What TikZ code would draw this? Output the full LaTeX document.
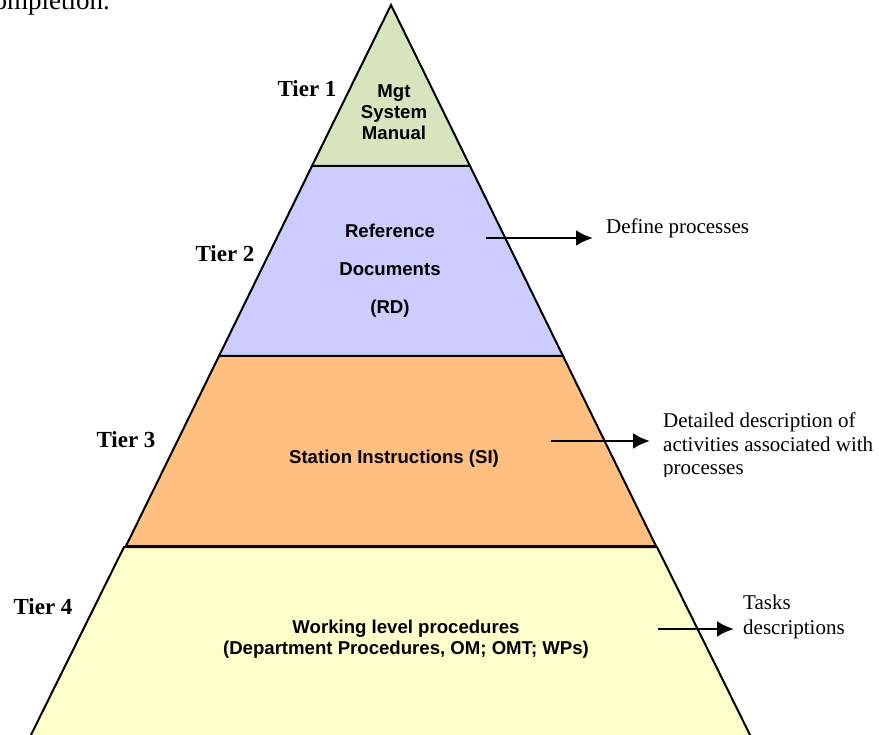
\documentclass[tikz,border=0pt]{standalone}
\usepackage{fontspec}
\setmainfont{Liberation Serif}
\setsansfont{Liberation Sans}
\usepackage{tikz}
\usetikzlibrary{arrows.meta}

\definecolor{tierone}{HTML}{D7E4BD}
\definecolor{tiertwo}{HTML}{CCCCFF}
\definecolor{tierthree}{HTML}{FFBF80}
\definecolor{tierfour}{HTML}{FFFFCC}

\begin{document}
\begin{tikzpicture}[x=1pt, y=-1pt]
\tikzset{layer/.style = {draw=black, line width=2pt}}
\tikzset{box/.style = {font=\sffamily\bfseries\fontsize{18.6}{21}\selectfont, align=center, inner sep=0pt}}
\tikzset{tier/.style = {font=\bfseries\fontsize{23}{26}\selectfont, inner sep=0pt}}
\tikzset{note/.style = {font=\fontsize{21}{23.5}\selectfont, align=left, anchor=west, inner sep=0pt}}
\tikzset{edge/.style = {-{Latex[length=17pt,width=16pt]}, line width=2.8pt}}

\useasboundingbox (0,0) rectangle (879,735);
\clip (0,0) rectangle (879,735);

% text above
\node[font=\fontsize{27}{30}\selectfont, anchor=base east, inner sep=0pt] (prev) at (110,10) {completion.};

% layers
\filldraw[layer, fill=tierfour] (124,547) -- (657,547) -- (755,745) -- (26,745) -- cycle;
\filldraw[layer, fill=tierthree] (219,356) -- (563,356) -- (656,546) -- (126,546) -- cycle;
\filldraw[layer, fill=tiertwo] (312,166) -- (470,166) -- (563,356) -- (219,356) -- cycle;
\filldraw[layer, fill=tierone] (391,5) -- (470,166) -- (312,166) -- cycle;

% texts in the layers
\node[box] (mgt) at (394,112) {Mgt\\System\\Manual};
\node[box, font=\sffamily\bfseries\fontsize{18.6}{38}\selectfont] (rd) at (390,271) {Reference\\Documents\\(RD)};
\node[box] (si) at (394,459) {Station Instructions (SI)};
\node[box] (wlp) at (406,639) {Working level procedures\\(Department Procedures, OM; OMT; WPs)};

% tiers
\node[tier] (t1) at (307,89) {Tier 1};
\node[tier] (t2) at (225,254) {Tier 2};
\node[tier] (t3) at (126,440) {Tier 3};
\node[tier] (t4) at (43,607) {Tier 4};

% notes
\node[note] (def) at (606,228) {Define processes};
\begin{scope}
\clip (650,400) rectangle (879,477);
\node[note] (det) at (663,446) {Detailed description of\\activities associated with\\processes};
\end{scope}
\node[note, font=\fontsize{21}{25}\selectfont] (task) at (743,617) {Tasks\\descriptions};

%edges
\coordinate (a2) at (486,238);
\coordinate (b2) at (593,238);
\coordinate (a3) at (551,441);
\coordinate (b3) at (650,441);
\coordinate (a4) at (658,629);
\coordinate (b4) at (734,629);
\draw[edge] (a2) -- (b2);
\draw[edge] (a3) -- (b3);
\draw[edge] (a4) -- (b4);

\end{tikzpicture}
\end{document}
